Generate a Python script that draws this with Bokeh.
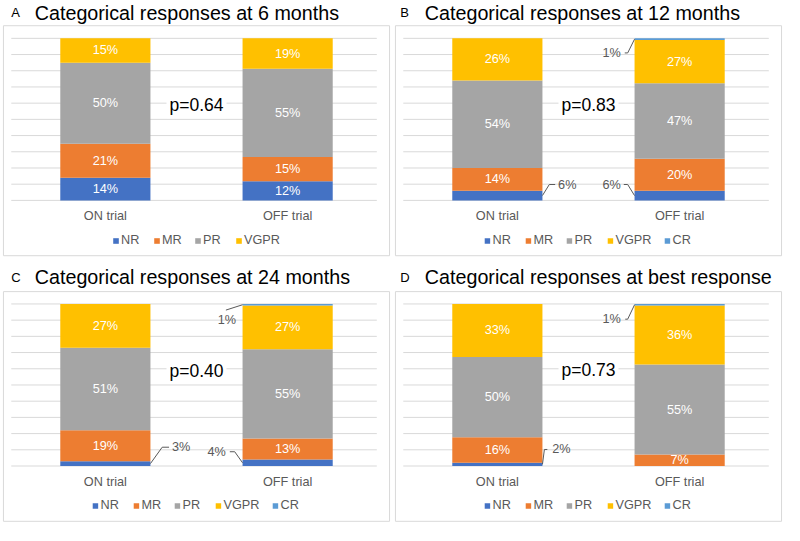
from bokeh.plotting import figure
from bokeh.layouts import column, row
from bokeh.models import ColumnDataSource, Label, Legend, LegendItem
from bokeh.core.properties import value
from bokeh.embed import file_html
from bokeh.resources import INLINE

# ---------------- data ----------------
categories = ["ON trial", "OFF trial"]
series = ["NR", "MR", "PR", "VGPR", "CR"]
colors = {"NR": "#4472C4", "MR": "#ED7D31", "PR": "#A5A5A5",
          "VGPR": "#FFC000", "CR": "#5B9BD5"}

letters = ["A", "B", "C", "D"]
titles = ["Categorical responses at 6 months",
          "Categorical responses at 12 months",
          "Categorical responses at 24 months",
          "Categorical responses at best response"]
p_values = ["p=0.64", "p=0.83", "p=0.40", "p=0.73"]

# values in % for [ON trial, OFF trial]
nr_6 = [14, 12]
mr_6 = [21, 15]
pr_6 = [50, 55]
vgpr_6 = [15, 19]

nr_12 = [6, 6]
mr_12 = [14, 20]
pr_12 = [54, 47]
vgpr_12 = [26, 27]
cr_12 = [0, 1]

nr_24 = [3, 4]
mr_24 = [19, 13]
pr_24 = [51, 55]
vgpr_24 = [27, 27]
cr_24 = [0, 1]

nr_best = [2, 0]
mr_best = [16, 7]
pr_best = [50, 55]
vgpr_best = [33, 36]
cr_best = [0, 1]

panels = [
    {"NR": nr_6, "MR": mr_6, "PR": pr_6, "VGPR": vgpr_6},
    {"NR": nr_12, "MR": mr_12, "PR": pr_12, "VGPR": vgpr_12, "CR": cr_12},
    {"NR": nr_24, "MR": mr_24, "PR": pr_24, "VGPR": vgpr_24, "CR": cr_24},
    {"NR": nr_best, "MR": mr_best, "PR": pr_best, "VGPR": vgpr_best, "CR": cr_best},
]

# ---------------- layout / styling ----------------
PX = 1.67          # reference px per percent
ON_C = 107.0       # reference x of first bar centre inside a panel
UNIT = 186.0       # reference px between bar centres
BAR_W = 92.0 / UNIT
FONT = value("Liberation Sans")
GREY_TXT = "#595959"
GRID = "#d9d9d9"

rows_geom = [
    dict(h=262, fig_top=0, fig_bot=270, zero=206.0, box_top=26, box_bot=263,
         title_y=12.5, cat_y=222, leg_margin=14, p_y=58.7),
    dict(h=263, fig_top=270, fig_bot=541, zero=479.7, box_top=300, box_bot=536.7,
         title_y=285, cat_y=496, leg_margin=12, p_y=58.7),
]

# outside labels: panel, series, bar, text x (ref px), text y (%), align, leader pts
outside = [
    (1, "NR", 0, 169, 9.8, "left", [(160, 9.8), (166, 9.8)]),
    (1, "NR", 1, 233, 9.8, "right", [(240, 9.8), (236, 9.8)]),
    (1, "CR", 1, 233, 91.0, "right", [(240, 91.0), (237, 91.0)]),
    (2, "NR", 0, 175, 11.6, "left", [(165, 11.6), (172, 11.6)]),
    (2, "NR", 1, 230, 8.8, "right", [(239, 8.8), (234, 8.8)]),
    (2, "CR", 1, 231, 90.2, "center", [(230, 96.2)]),
    (3, "NR", 0, 163, 10.2, "left", [(155, 10.2), (158, 10.2)]),
    (3, "CR", 1, 233, 90.6, "right", [(240, 90.6), (237.5, 90.6)]),
]


def make_panel(idx):
    g = rows_geom[idx // 2]
    left_col = idx % 2 == 0
    data = panels[idx]

    def yp(yref):
        return (g["zero"] - yref) / PX

    def xu(xrel):
        return (xrel - ON_C) / UNIT

    p = figure(width=392, height=g["h"],
               x_range=(xu(0), xu(400)),
               y_range=(yp(g["fig_bot"]), yp(g["fig_top"])),
               output_backend="svg", toolbar_location=None,
               x_axis_location=None, y_axis_location=None,
               min_border=0, outline_line_color=None)
    p.grid.visible = False

    # panel box
    p.quad(left=[xu(3)], right=[xu(397)], top=[yp(g["box_top"])],
           bottom=[yp(g["box_bot"])], fill_color=None, line_color=GRID,
           line_width=1)

    # gridlines
    ticks = list(range(0, 101, 10))
    p.segment(x0=[xu(11)] * len(ticks), x1=[xu(384)] * len(ticks),
              y0=ticks, y1=ticks, line_color=GRID, line_width=1)

    # normalised stacks (100% stacked)
    present = [s for s in series if s in data]
    totals = [sum(data[s][b] for s in present) for b in range(2)]
    src = {"x": [0, 1]}
    for s in present:
        src[s] = [data[s][b] / totals[b] * 100 for b in range(2)]
    source = ColumnDataSource(src)
    rends = p.vbar_stack(present, x="x", width=BAR_W, source=source,
                         fill_color=[colors[s] for s in present],
                         line_color=None)

    # labels
    out_keys = {(o[1], o[2]): o for o in outside if o[0] == idx}
    in_x, in_y, in_t = [], [], []
    for b in range(2):
        cum = 0.0
        for s in present:
            v = src[s][b]
            mid = cum + v / 2
            cum += v
            if data[s][b] == 0:
                continue
            lab = f"{data[s][b]}%"
            if (s, b) in out_keys:
                o = out_keys[(s, b)]
                edge = xu(ON_C + BAR_W * UNIT / 2) if b == 0 else xu(ON_C + UNIT - BAR_W * UNIT / 2)
                xs = [edge] + [xu(px) for px, _ in o[6]]
                ys = [mid] + [py for _, py in o[6]]
                p.line(xs, ys, line_color=GREY_TXT, line_width=1)
                p.text(x=[xu(o[3])], y=[o[4]], text=[lab], text_font=FONT,
                       text_font_size=value("12.7px"), text_color=GREY_TXT,
                       text_align=o[5], text_baseline="middle")
            else:
                in_x.append(b)
                in_y.append(mid)
                in_t.append(lab)
    p.text(x=in_x, y=in_y, text=in_t, text_font=FONT,
           text_font_size=value("12.7px"), text_color="white",
           text_align="center", text_baseline="middle")

    # category labels
    p.text(x=[0, 1], y=[yp(g["cat_y"])] * 2, text=categories, text_font=FONT,
           text_font_size=value("12.7px"), text_color=GREY_TXT,
           text_align="center", text_baseline="middle")

    # title
    lx = 11 if left_col else 8
    tx = 35 if left_col else 33
    p.text(x=[xu(lx)], y=[yp(g["title_y"])], text=[letters[idx]], text_font=FONT,
           text_font_size=value("13px"), text_color="black",
           text_align="left", text_baseline="middle")
    p.text(x=[xu(tx)], y=[yp(g["title_y"])], text=[titles[idx]], text_font=FONT,
           text_font_size=value("19.7px"), text_color="black",
           text_align="left", text_baseline="middle")

    # p-value
    py = 59.5 if idx == 3 else g["p_y"]
    p.add_layout(Label(x=0.5, y=py, text=p_values[idx], text_font="Liberation Sans",
                       text_font_size="17.5px", text_color="black",
                       text_align="center", text_baseline="middle",
                       background_fill_color="white", padding=3))

    # legend
    items = [LegendItem(label=s, renderers=[r]) for s, r in zip(present, rends)]
    leg = Legend(items=items, orientation="horizontal", location="bottom_center",
                 margin=g["leg_margin"], padding=0, spacing=12,
                 glyph_width=7, glyph_height=7, label_standoff=2,
                 label_height=16, label_text_font="Liberation Sans",
                 label_text_font_size="12.7px", label_text_color=GREY_TXT,
                 background_fill_alpha=0, border_line_color=None)
    p.add_layout(leg)
    return p


figs = [make_panel(i) for i in range(4)]
layout = column(row(figs[0], figs[1], spacing=0), row(figs[2], figs[3], spacing=0),
                spacing=0)

open("out.html", "w").write(file_html(layout, INLINE))
